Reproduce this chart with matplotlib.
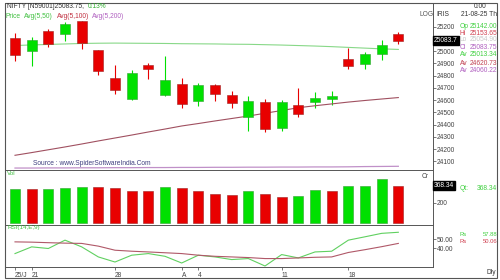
import matplotlib
matplotlib.use('Agg')
import matplotlib.pyplot as plt
from matplotlib.patches import Rectangle

plt.rcParams['font.family'] = ['Liberation Sans', 'DejaVu Sans']

# daily candles, 18 Jul 2025 .. 21 Aug 2025
opens = [25108, 24999, 25166, 25139, 25243, 25010, 24782, 24609, 24890, 24642, 24734, 24596,
         24720, 24641, 24464, 24586, 24371, 24563, 24586, 24607, 24938, 24892, 24980, 25142.00]
highs = [25145, 25111, 25182, 25233, 25246, 25010, 24889, 24847, 24902, 24956, 24784, 24736,
         24734, 24671, 24634, 24609, 24600, 24702, 24664, 24674, 25022, 24992, 25089, 25153.65]
lows = [24918, 24882, 25035, 25085, 25018, 24806, 24646, 24598, 24771, 24635, 24535, 24554,
        24590, 24539, 24344, 24337, 24347, 24465, 24539, 24563, 24852, 24852, 24929, 25054.90]
closes = [24968, 25091, 25061, 25220, 25062, 24837, 24681, 24821, 24855, 24768, 24565, 24722,
          24649, 24574, 24596, 24363, 24585, 24487, 24619, 24631, 24877, 24980, 25050, 25083.75]

avg50 = [25045, 25050, 25054, 25058, 25062, 25064, 25065, 25064, 25063, 25062, 25060, 25059,
         25058, 25056, 25055, 25052, 25049, 25045, 25041, 25036, 25030, 25024, 25018, 25013.34]
avg100 = [24150, 24172, 24195, 24218, 24242, 24267, 24291, 24315, 24340, 24364, 24389, 24409,
          24430, 24450, 24470, 24493, 24515, 24538, 24554, 24569, 24584, 24597, 24609, 24620.73]
avg200 = [24046, 24046, 24047, 24047, 24048, 24048, 24049, 24049, 24050, 24050, 24051, 24051,
          24052, 24052, 24053, 24053, 24054, 24054, 24055, 24055, 24056, 24058, 24059, 24060.22]

volume = [338, 335, 338, 348, 361, 358, 348, 321, 315, 361, 348, 315,
          291, 281, 318, 285, 255, 268, 331, 321, 366, 370, 441, 368.34]

rsi = [34.4, 41.8, 40.0, 49.2, 41.8, 30.7, 25.1, 32.6, 34.4, 31.4, 24.0, 32.6,
       30.7, 27.8, 28.9, 20.7, 33.3, 29.6, 36.2, 37.0, 49.2, 52.9, 56.7, 57.88]
rsi_sig = [47.3, 47.0, 46.4, 45.9, 45.6, 42.6, 38.1, 37.0, 36.2, 35.3, 34.4, 32.6,
           31.4, 30.7, 30.0, 28.9, 28.9, 29.6, 30.3, 30.7, 35.6, 38.7, 42.0, 45.6]

date_pos = [0, 1, 6, 10, 11, 16, 20]
date_labels = ['25/J', '21', '28', 'A', '4', '11', '18']

GREEN = '#00e000'
RED = '#e80000'
W, H = 500, 280


def box(x0, y0, x1, y1):
    # pixel box (top-left origin) -> figure rect
    return [x0 / W, 1 - y1 / H, (x1 - x0) / W, (y1 - y0) / H]


def ftext(x, y, s, size=4.8, **kw):
    fig.text(x / W, 1 - y / H, s, va='center', fontsize=size, **kw)


fig = plt.figure(figsize=(5, 2.8), dpi=100)
fig.patches.append(Rectangle((5 / W, 2 / H), 492 / W, 275 / H, transform=fig.transFigure,
                             fill=False, edgecolor='#555555', linewidth=0.8))

n = len(opens)
xs = list(range(n))
up = [c >= o for o, c in zip(opens, closes)]

ax = fig.add_axes(box(5, 3, 433, 170))
ax.vlines(xs, lows, highs, colors=[GREEN if u else RED for u in up], linewidth=0.8, zorder=2)
ax.bar(xs, [abs(c - o) for o, c in zip(opens, closes)], bottom=[min(o, c) for o, c in zip(opens, closes)],
       width=0.6, color=[GREEN if u else RED for u in up],
       edgecolor=['#30a030' if u else '#a02020' for u in up], linewidth=0.4, zorder=3)
ax.plot(xs, avg50, color='#88d888', linewidth=0.8)
ax.plot(xs, avg100, color='#a05060', linewidth=0.8)
ax.plot(xs, avg200, color='#c090c8', linewidth=0.9)
ax.set_xlim(-0.6, 25.08)
ax.set_ylim(24030, 25392)
ax.set_xticks([])
ax.yaxis.tick_right()
ax.set_yticks(range(24100, 25201, 100))
ax.set_yticklabels([str(v) if v != 25100 else '' for v in range(24100, 25201, 100)])
ax.tick_params(axis='y', labelsize=4.8, length=2, pad=1, colors='#444444', width=0.5)
ax.text(1.002, (25083.75 - 24030) / (25392 - 24030), '25083.7', transform=ax.transAxes,
        fontsize=4.8, color='white', va='center', ha='left', zorder=6,
        bbox=dict(boxstyle='square,pad=0.15', facecolor='black', edgecolor='black'))
ax.text(0.065, 0.03, 'Source : www.SpiderSoftwareIndia.Com', transform=ax.transAxes,
        fontsize=4.8, color='#404080')

vax = fig.add_axes(box(5, 170, 433, 225))
vcol = [GREEN] + [GREEN if volume[i] > volume[i - 1] else RED for i in range(1, n)]
vax.bar(xs, volume, width=0.6, color=vcol, edgecolor=['#30a030' if c == GREEN else '#a02020' for c in vcol],
        linewidth=0.4)
vax.set_xlim(-0.6, 25.08)
vax.set_ylim(-22, 528)
vax.set_xticks([])
vax.yaxis.tick_right()
vax.set_yticks([200, 400])
vax.set_yticklabels(['200', ''])
vax.tick_params(axis='y', labelsize=4.8, length=2, pad=1, colors='#444444', width=0.5)
vax.text(1.002, (368.34 + 22) / 550, '368.34', transform=vax.transAxes, fontsize=4.8,
         color='white', va='center', ha='left', zorder=6,
         bbox=dict(boxstyle='square,pad=0.15', facecolor='black', edgecolor='black'))
vax.text(0.005, 0.94, 'Vol', transform=vax.transAxes, fontsize=4.5, color='#40c040', va='center')
vax.text(0.99, 0.88, 'Cr', transform=vax.transAxes, fontsize=4.8, color='#444444', va='center', ha='right')

rax = fig.add_axes(box(5, 225, 433, 267))
rax.plot(xs, rsi, color='#60d060', linewidth=0.8)
rax.plot(xs, rsi_sig, color='#b05868', linewidth=0.8)
rax.set_xlim(-0.6, 25.08)
rax.set_ylim(19.6, 65.9)
rax.yaxis.tick_right()
rax.set_yticks([40, 50])
rax.set_yticklabels(['40.00', '50.00'])
rax.tick_params(axis='y', labelsize=4.8, length=2, pad=1, colors='#444444', width=0.5)
rax.set_xticks(date_pos)
rax.set_xticklabels(date_labels, ha='left')
rax.tick_params(axis='x', labelsize=4.8, length=2, pad=1.5, colors='#444444', width=0.5)
rax.text(0.005, 0.93, 'RSI(14,E,9)', transform=rax.transAxes, fontsize=4.5, color='#40c040', va='center')

for a in (ax, vax, rax):
    for sp in a.spines.values():
        sp.set_color('#555555')
        sp.set_linewidth(0.7)

# header texts
ftext(7, 6, 'NIFTY [N59001]25083.75,', color='#333333')
ftext(88, 6, '0.13%', color='#30b030')
ftext(6, 16, 'Price', color='#40c040')
ftext(24, 16, 'Avg(5,50)', color='#40c040')
ftext(57, 16, 'Avg(5,100)', color='#c03040')
ftext(92, 16, 'Avg(5,200)', color='#b060c0')
ftext(419, 15, 'LOG', color='#555555')
ftext(436, 15, 'IRIS', color='#333333')
ftext(487, 6, '0.00', color='#333333', ha='right')
ftext(497, 15, '21-08-25 Th', color='#333333', ha='right')

# right-side info column
info = [('Op', '25142.00', '#40d040', 26.7), ('Hi', '25153.65', '#d04050', 33.3),
        ('Lo', '25054.90', '#c8c8c8', 40), ('Cl', '25083.75', '#b060c0', 47.3),
        ('Av', '25013.34', '#40d040', 55), ('Av', '24620.73', '#c04050', 63.3),
        ('Av', '24060.22', '#b060c0', 70)]
for lab, val, col, yy in info:
    ftext(460, yy, lab, color=col)
    ftext(497, yy, val, color=col, ha='right')
ftext(460, 188, 'Qt:', color='#40d040')
ftext(497, 188, '368.34', color='#40d040', ha='right')
ftext(460, 235, 'Rs', size=4.2, color='#40d040')
ftext(497, 235, '57.88', size=4.2, color='#40d040', ha='right')
ftext(460, 241.5, 'Rs', size=4.2, color='#d04050')
ftext(497, 241.5, '50.06', size=4.2, color='#d04050', ha='right')
ftext(496, 272, 'Dly', color='#333333', ha='right')

fig.savefig('out.png', dpi=100)
